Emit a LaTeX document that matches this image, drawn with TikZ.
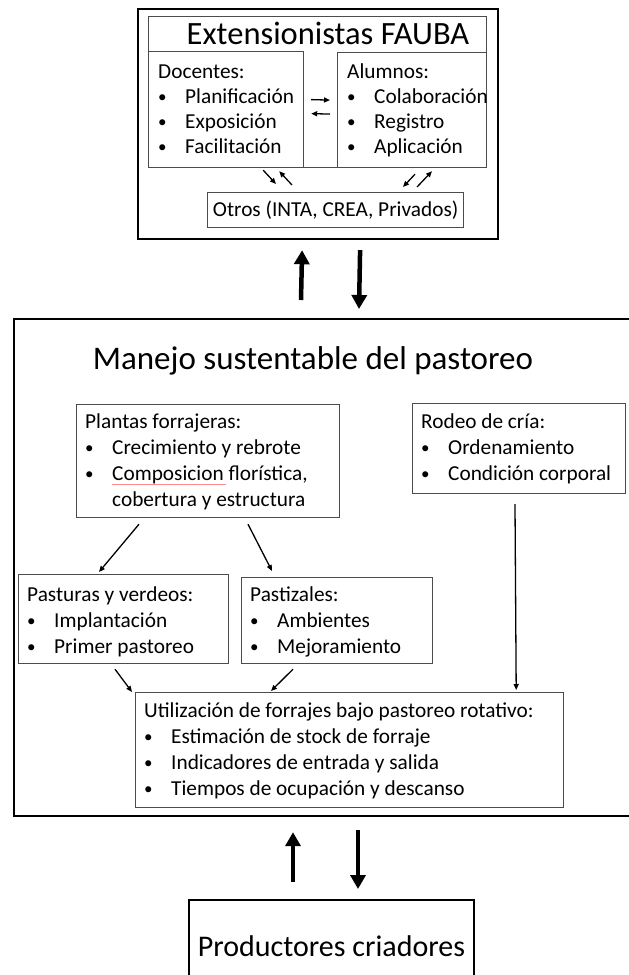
\documentclass[tikz,border=0pt]{standalone}
\usepackage{fontspec}
\setmainfont{Carlito}
\usetikzlibrary{arrows.meta}

% bullet item and first-line strut
\newcommand{\itm}[1]{\makebox[27pt][l]{\raisebox{0.5pt}{\fontsize{17}{17}\selectfont\textbullet}}#1}
\newcommand{\fst}{\rule{0pt}{17pt}}

\tikzset{
  outerbox/.style={draw=black, line width=2.2pt, inner sep=0pt, anchor=north west},
  innerbox/.style={draw=black!70, line width=1.2pt, inner sep=0pt, anchor=north west},
  boxtext/.style={align=left, inner sep=0pt, anchor=north west, font=\fontsize{21.3}{26}\selectfont},
  thinarrow/.style={-{Triangle[length=6pt,width=5pt]}, line width=1.3pt},
  bigarrow/.style={-{Triangle[length=14pt,width=15pt]}, line width=4.5pt},
}

\begin{document}
\begin{tikzpicture}[x=1pt, y=-1pt]
        \useasboundingbox (0,0) rectangle (629,975);
        % top block: extensionistas
        \node[outerbox, minimum width=360pt, minimum height=230pt] (ext) at (137,8) {};
        \node[innerbox, minimum width=338pt, minimum height=151pt] (frame) at (148,16) {};
        \node[inner sep=0pt, anchor=base, font=\fontsize{32.5}{36}\selectfont] (extTitle) at (328,44) {Extensionistas FAUBA};
        \node[innerbox, minimum width=155pt, minimum height=116pt] (doc) at (148,51) {};
        \node[innerbox, minimum width=149pt, minimum height=115pt] (alu) at (337,52) {};
        \node[innerbox, minimum width=256pt, minimum height=35pt, anchor=north west, font=\fontsize{21.3}{24}\selectfont] (otros) at (207,192) {Otros (INTA, CREA, Privados)};
        \node[boxtext, font=\fontsize{21.3}{25}\selectfont] (docTxt) at ([xshift=10pt,yshift=-10pt]doc.north west)
          {\fst Docentes:\\ \itm{Planificación}\\ \itm{Exposición}\\ \itm{Facilitación}};
        \node[boxtext, font=\fontsize{21.3}{25}\selectfont] (aluTxt) at ([xshift=10pt,yshift=-9pt]alu.north west)
          {\fst Alumnos:\\ \itm{Colaboración}\\ \itm{Registro}\\ \itm{Aplicación}};
        % arrows inside the top block
        \draw[thinarrow] ([xshift=7pt,yshift=10pt]doc.east) -- ([xshift=-7pt,yshift=10pt]alu.west);
        \draw[thinarrow] ([xshift=-7pt,yshift=-4pt]alu.west) -- ([xshift=7pt,yshift=-4pt]doc.east);
        \draw[thinarrow] ([xshift=-41pt,yshift=-2pt]doc.south east) -- ([xshift=69pt,yshift=8pt]otros.north west);
        \draw[thinarrow] ([xshift=85pt,yshift=7pt]otros.north west) -- ([xshift=-25pt,yshift=-3pt]doc.south east);
        \draw[thinarrow] ([xshift=78pt,yshift=-6pt]alu.south west) -- ([xshift=196pt,yshift=5pt]otros.north west);
        \draw[thinarrow] ([xshift=210pt,yshift=5pt]otros.north west) -- ([xshift=95pt,yshift=-3pt]alu.south west);

        % middle block: manejo
        \node[outerbox, minimum width=622pt, minimum height=497pt] (mid) at (13,318) {};
        \node[inner sep=0pt, anchor=base, font=\fontsize{33}{38}\selectfont] (midTitle) at (313,369) {Manejo sustentable del pastoreo};
        \node[innerbox, minimum width=263pt, minimum height=113pt] (plantas) at (76,404) {};
        \node[innerbox, minimum width=213pt, minimum height=90pt] (rodeo) at (412,403) {};
        \node[innerbox, minimum width=210pt, minimum height=89pt] (pasturas) at (18,574) {};
        \node[innerbox, minimum width=191pt, minimum height=86pt] (pastizales) at (241,577) {};
        \node[innerbox, minimum width=428pt, minimum height=115pt] (util) at (135,692) {};
        \node[boxtext] (plantasTxt) at ([xshift=9pt,yshift=-7pt]plantas.north west)
          {\fst Plantas forrajeras:\\ \itm{Crecimiento y rebrote}\\ \itm{Composicion florística,}\\ \hspace*{27pt}cobertura y estructura};
        \node[boxtext] (rodeoTxt) at ([xshift=9pt,yshift=-8pt]rodeo.north west)
          {\fst Rodeo de cría:\\ \itm{Ordenamiento}\\ \itm{Condición corporal}};
        \node[boxtext] (pasturasTxt) at ([xshift=9pt,yshift=-10pt]pasturas.north west)
          {\fst Pasturas y verdeos:\\ \itm{Implantación}\\ \itm{Primer pastoreo}};
        \node[boxtext] (pastizalesTxt) at ([xshift=9pt,yshift=-7pt]pastizales.north west)
          {\fst Pastizales:\\ \itm{Ambientes}\\ \itm{Mejoramiento}};
        \node[boxtext] (utilTxt) at ([xshift=9pt,yshift=-8pt]util.north west)
          {\fst Utilización de forrajes bajo pastoreo rotativo:\\ \itm{Estimación de stock de forraje}\\ \itm{Indicadores de entrada y salida}\\ \itm{Tiempos de ocupación y descanso}};
        % spell check underline
        \draw[red!45, line width=0.8pt] (112,484) -- (226,484);
        % arrows inside the middle block
        \draw[thinarrow] ([xshift=63pt,yshift=-6pt]plantas.south west) -- ([xshift=81pt,yshift=2pt]pasturas.north west);
        \draw[thinarrow] ([xshift=172pt,yshift=-6pt]plantas.south west) -- ([xshift=31pt,yshift=6pt]pastizales.north west);
        \draw[thinarrow] ([xshift=97pt,yshift=-5pt]pasturas.south west) -- ([xshift=-3pt]util.north west);
        \draw[thinarrow] ([xshift=52pt,yshift=-5pt]pastizales.south west) -- ([xshift=136pt,yshift=1pt]util.north west);
        \draw[thinarrow] ([xshift=103pt,yshift=-10pt]rodeo.south west) -- ([xshift=-48pt,yshift=2pt]util.north east);

        % big arrows between blocks
        \draw[bigarrow] ([xshift=288pt,yshift=18pt]mid.north west) -- ([xshift=-16pt,yshift=-10pt]ext.south);
        \draw[bigarrow] ([xshift=42pt,yshift=-10pt]ext.south) -- ([xshift=346pt,yshift=9pt]mid.north west);

        % bottom block: productores
        \node[outerbox, minimum width=285pt, minimum height=92pt, anchor=north, font=\fontsize{30}{35}\selectfont] (prod) at (331.5,899) {Productores criadores};
        \draw[bigarrow] ([xshift=-38.5pt,yshift=17pt]prod.north) -- ([xshift=280pt,yshift=-15pt]mid.south west);
        \draw[bigarrow] ([xshift=345pt,yshift=-13pt]mid.south west) -- ([xshift=26.5pt,yshift=10pt]prod.north);
\end{tikzpicture}
\end{document}
